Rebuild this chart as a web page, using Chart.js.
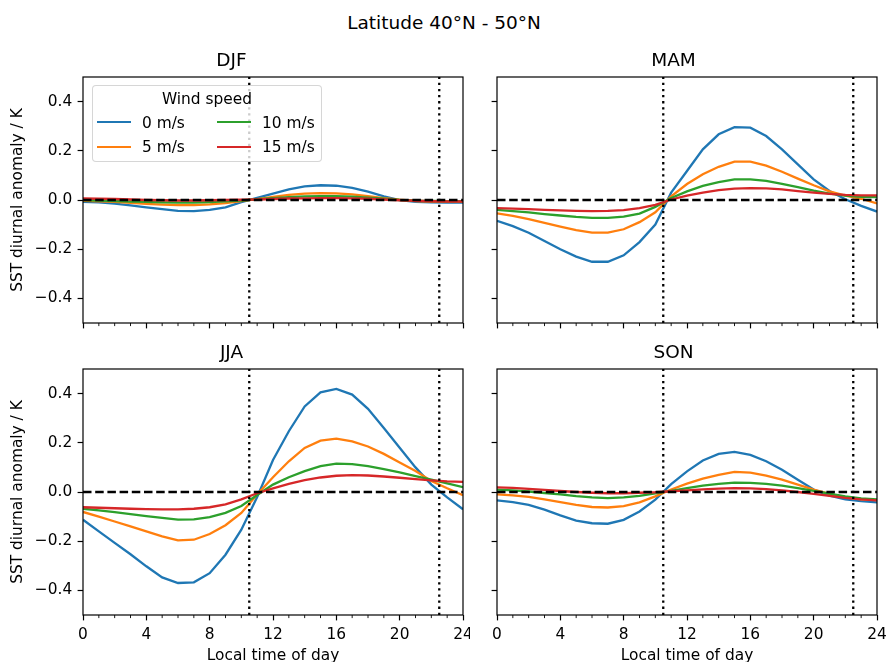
<!DOCTYPE html>
<html>
<head>
<meta charset="utf-8">
<script src="https://cdn.jsdelivr.net/npm/chart.js@4.4.0/dist/chart.umd.min.js"></script>
<style>
    body { margin: 0; background: #fff; width: 888px; height: 662px; overflow: hidden; position: relative; font-family: "DejaVu Sans"; color: #000; }
    canvas { position: absolute; }
    #suptitle { position: absolute; left: 0; top: 12px; width: 888px; height: 22px; line-height: 22px; text-align: center; font-size: 18.5px; }
    #legend { position: absolute; left: 92px; top: 85px; width: 230px; height: 77px; box-sizing: border-box;
              border: 1px solid rgba(204, 204, 204, 0.8); border-radius: 4px; background: rgba(255, 255, 255, 0.8); z-index: 5; }
    #legend div { position: absolute; white-space: nowrap; font-size: 15.4px; line-height: 22px; }
</style>
</head>
<body>
<div id="suptitle">Latitude 40°N - 50°N</div>
<canvas id="djf" width="470" height="292" style="left:0;top:40px"></canvas>
<canvas id="mam" width="418" height="292" style="left:470px;top:40px"></canvas>
<canvas id="jja" width="470" height="340" style="left:0;top:332px"></canvas>
<canvas id="son" width="418" height="340" style="left:470px;top:332px"></canvas>
<div id="legend"></div>

<script>
// datos (anomalia SST en K, hora local 0..24)
const hours = [0, 1, 2, 3, 4, 5, 6, 7, 8, 9, 10, 11, 12, 13, 14, 15, 16, 17, 18, 19, 20, 21, 22, 23, 24];
const windLabels = ["0 m/s", "5 m/s", "10 m/s", "15 m/s"];
const xTicks = [0, 4, 8, 12, 16, 20, 24];
const xMinorTicks = [1, 2, 3, 5, 6, 7, 9, 10, 11, 13, 14, 15, 17, 18, 19, 21, 22, 23];
const yTicks = [-0.4, -0.2, 0, 0.2, 0.4];
const markerHours = [10.5, 22.5];
const yMin = -0.5;
const yMax = 0.5;

const djf0 = [-0.008, -0.010, -0.015, -0.022, -0.030, -0.037, -0.044, -0.045, -0.040, -0.030, -0.009, 0.009, 0.026, 0.043, 0.055, 0.060, 0.058, 0.049, 0.034, 0.015, 0.000, -0.008, -0.010, -0.011, -0.011];
const djf5 = [-0.003, -0.005, -0.008, -0.012, -0.016, -0.019, -0.021, -0.021, -0.018, -0.013, -0.005, 0.004, 0.013, 0.021, 0.026, 0.028, 0.027, 0.023, 0.016, 0.008, 0.001, -0.004, -0.006, -0.007, -0.007];
const djf10 = [0.000, -0.002, -0.004, -0.006, -0.008, -0.010, -0.011, -0.011, -0.009, -0.006, -0.002, 0.003, 0.008, 0.012, 0.015, 0.016, 0.016, 0.014, 0.010, 0.005, 0.000, -0.003, -0.004, -0.005, -0.005];
const djf15 = [0.006, 0.005, 0.004, 0.002, 0.000, -0.001, -0.002, -0.002, -0.001, 0.000, 0.001, 0.002, 0.004, 0.006, 0.007, 0.008, 0.008, 0.007, 0.005, 0.002, -0.001, -0.003, -0.005, -0.006, -0.006];

const mam0 = [-0.085, -0.106, -0.133, -0.167, -0.200, -0.230, -0.251, -0.251, -0.225, -0.171, -0.100, 0.030, 0.118, 0.206, 0.267, 0.296, 0.294, 0.260, 0.206, 0.145, 0.084, 0.037, 0.003, -0.024, -0.047];
const mam5 = [-0.054, -0.065, -0.078, -0.093, -0.108, -0.122, -0.133, -0.133, -0.119, -0.090, -0.050, 0.015, 0.065, 0.105, 0.135, 0.156, 0.156, 0.140, 0.115, 0.087, 0.060, 0.035, 0.018, 0.005, -0.014];
const mam10 = [-0.040, -0.045, -0.050, -0.057, -0.063, -0.069, -0.073, -0.073, -0.068, -0.055, -0.028, 0.008, 0.035, 0.057, 0.073, 0.084, 0.084, 0.078, 0.066, 0.052, 0.038, 0.026, 0.018, 0.013, 0.012];
const mam15 = [-0.033, -0.035, -0.037, -0.040, -0.042, -0.044, -0.045, -0.044, -0.041, -0.033, -0.020, 0.002, 0.018, 0.030, 0.040, 0.046, 0.048, 0.047, 0.043, 0.036, 0.030, 0.025, 0.021, 0.019, 0.019];

const jja0 = [-0.113, -0.160, -0.207, -0.253, -0.302, -0.347, -0.370, -0.367, -0.330, -0.255, -0.153, -0.020, 0.130, 0.247, 0.348, 0.405, 0.419, 0.396, 0.338, 0.260, 0.180, 0.100, 0.030, -0.022, -0.070];
const jja5 = [-0.081, -0.100, -0.120, -0.140, -0.160, -0.180, -0.197, -0.194, -0.171, -0.135, -0.085, -0.010, 0.060, 0.125, 0.179, 0.209, 0.217, 0.206, 0.185, 0.155, 0.120, 0.085, 0.045, 0.015, -0.013];
const jja10 = [-0.068, -0.075, -0.082, -0.090, -0.098, -0.105, -0.112, -0.111, -0.102, -0.085, -0.057, -0.012, 0.030, 0.060, 0.085, 0.105, 0.115, 0.113, 0.105, 0.093, 0.080, 0.065, 0.050, 0.035, 0.020];
const jja15 = [-0.062, -0.064, -0.066, -0.068, -0.070, -0.071, -0.071, -0.068, -0.062, -0.050, -0.030, -0.005, 0.015, 0.033, 0.048, 0.059, 0.066, 0.069, 0.067, 0.063, 0.058, 0.052, 0.047, 0.043, 0.041];

const son0 = [-0.034, -0.041, -0.052, -0.072, -0.095, -0.116, -0.127, -0.129, -0.113, -0.079, -0.031, 0.032, 0.084, 0.128, 0.155, 0.163, 0.151, 0.125, 0.090, 0.050, 0.010, -0.015, -0.030, -0.037, -0.042];
const son5 = [-0.010, -0.014, -0.020, -0.030, -0.041, -0.052, -0.061, -0.063, -0.057, -0.042, -0.018, 0.010, 0.034, 0.054, 0.070, 0.082, 0.079, 0.067, 0.050, 0.030, 0.010, -0.008, -0.022, -0.030, -0.033];
const son10 = [0.010, 0.007, 0.002, -0.004, -0.010, -0.017, -0.022, -0.025, -0.022, -0.016, -0.006, 0.005, 0.016, 0.026, 0.033, 0.038, 0.037, 0.033, 0.026, 0.016, 0.005, -0.007, -0.018, -0.026, -0.030];
const son15 = [0.019, 0.017, 0.013, 0.009, 0.004, 0.000, -0.003, -0.005, -0.005, -0.003, -0.001, 0.003, 0.007, 0.011, 0.014, 0.016, 0.015, 0.012, 0.007, 0.000, -0.008, -0.016, -0.024, -0.030, -0.034];

const colores = ["#1f77b4", "#ff7f0e", "#2ca02c", "#d62728"];
const fuente = { family: "DejaVu Sans", size: 15.4 };

Chart.defaults.font.family = "DejaVu Sans";
Chart.defaults.color = "#000";

// marco completo y ticks menores del eje x
const marcoPlugin = {
    id: "marco",
    afterDraw(chart) {
        const ctx = chart.ctx;
        const a = chart.chartArea;
        const x = chart.scales.x;
        ctx.save();
        ctx.strokeStyle = "#000";
        ctx.lineWidth = 1.2;
        ctx.strokeRect(a.left, a.top, a.right - a.left, a.bottom - a.top);
        ctx.lineWidth = 0.9;
        xMinorTicks.forEach(h => {
            const px = x.getPixelForValue(h);
            ctx.beginPath();
            ctx.moveTo(px, a.bottom);
            ctx.lineTo(px, a.bottom + 3.1);
            ctx.stroke();
        });
        ctx.restore();
    }
};

function formatoY(v) {
    if (Math.abs(v) < 1e-9) return "0.0";
    return v.toFixed(1).replace("-", "\u2212");
}

function crearPanel(id, titulo, series, conEtiquetasY, conEtiquetasX, anchoEjeY, altoEjeX, margenDer) {
    const datasets = series.map((valores, i) => ({
        label: windLabels[i],
        data: hours.map((h, j) => ({ x: h, y: valores[j] })),
        borderColor: colores[i],
        borderWidth: 2.3,
        pointRadius: 0,
        tension: 0,
        order: 4 - i
    }));

    datasets.push({
        label: "cero",
        data: [{ x: hours[0], y: 0 }, { x: hours[hours.length - 1], y: 0 }],
        borderColor: "#000",
        borderWidth: 2.3,
        borderDash: [8.5, 3.7],
        pointRadius: 0,
        order: 0
    });

    markerHours.forEach(h => {
        datasets.push({
            label: "hora " + h,
            data: [{ x: h, y: yMin }, { x: h, y: yMax }],
            borderColor: "#000",
            borderWidth: 2.3,
            borderDash: [2.3, 3.8],
            pointRadius: 0,
            order: 0
        });
    });

    new Chart(document.getElementById(id), {
        type: "line",
        data: { datasets: datasets },
        options: {
            responsive: false,
            animation: false,
            events: [],
            layout: { padding: { left: 0, right: margenDer, top: 0, bottom: 0 } },
            plugins: {
                legend: { display: false },
                tooltip: { enabled: false },
                title: {
                    display: true,
                    text: titulo,
                    color: "#000",
                    font: { family: "DejaVu Sans", size: 18.5, weight: "normal" },
                    padding: { top: 9.9, bottom: 4.9 }
                }
            },
            scales: {
                x: {
                    type: "linear",
                    min: 0,
                    max: 24,
                    afterBuildTicks: s => { s.ticks = xTicks.map(v => ({ value: v })); },
                    afterFit: s => { s.height = altoEjeX; s.paddingLeft = 0; s.paddingRight = 0; },
                    ticks: { display: conEtiquetasX, font: fuente, color: "#000", padding: 5.4, maxRotation: 0 },
                    grid: { drawOnChartArea: false, drawTicks: true, tickLength: 5.4, color: "#000", tickColor: "#000", tickWidth: 1.2 },
                    border: { display: false },
                    title: { display: conEtiquetasX, text: "Local time of day", font: fuente, color: "#000", padding: { top: 0, bottom: 6.8 } }
                },
                y: {
                    type: "linear",
                    min: yMin,
                    max: yMax,
                    afterBuildTicks: s => { s.ticks = yTicks.map(v => ({ value: v })); },
                    afterFit: s => { s.width = anchoEjeY; s.paddingTop = 0; s.paddingBottom = 0; },
                    ticks: { display: conEtiquetasY, font: fuente, color: "#000", padding: 5.4, callback: v => formatoY(v) },
                    grid: { drawOnChartArea: false, drawTicks: true, tickLength: 5.4, color: "#000", tickColor: "#000", tickWidth: 1.2 },
                    border: { display: false },
                    title: { display: conEtiquetasY, text: "SST diurnal anomaly / K", font: fuente, color: "#000", padding: { top: 9.25, bottom: 0 } }
                }
            }
        },
        plugins: [marcoPlugin]
    });
}

crearPanel("djf", "DJF", [djf0, djf5, djf10, djf15], true, false, 83, 9, 7);
crearPanel("mam", "MAM", [mam0, mam5, mam10, mam15], false, false, 27, 9, 11);
crearPanel("jja", "JJA", [jja0, jja5, jja10, jja15], true, true, 83, 57, 7);
crearPanel("son", "SON", [son0, son5, son10, son15], false, true, 27, 57, 11);

// leyenda dentro del panel DJF
function crearLeyenda() {
    const caja = document.getElementById("legend");
    let titulo = document.createElement("div");
    titulo.textContent = "Wind speed";
    titulo.style.left = "0";
    titulo.style.width = "228px";
    titulo.style.textAlign = "center";
    titulo.style.top = "1.6px";
    caja.appendChild(titulo);

    windLabels.forEach((nombre, i) => {
        const col = Math.floor(i / 2);
        const fila = i % 2;
        const centro = 36.3 + fila * 24.4;

        let linea = document.createElement("div");
        linea.style.left = (4 + col * 120) + "px";
        linea.style.top = (centro - 1.15) + "px";
        linea.style.width = "34px";
        linea.style.height = "2.3px";
        linea.style.background = colores[i];
        caja.appendChild(linea);

        let texto = document.createElement("div");
        texto.textContent = nombre;
        texto.style.left = (49 + col * 120) + "px";
        texto.style.top = (centro - 10.7) + "px";
        caja.appendChild(texto);
    });
}

crearLeyenda();
</script>
</body>
</html>
